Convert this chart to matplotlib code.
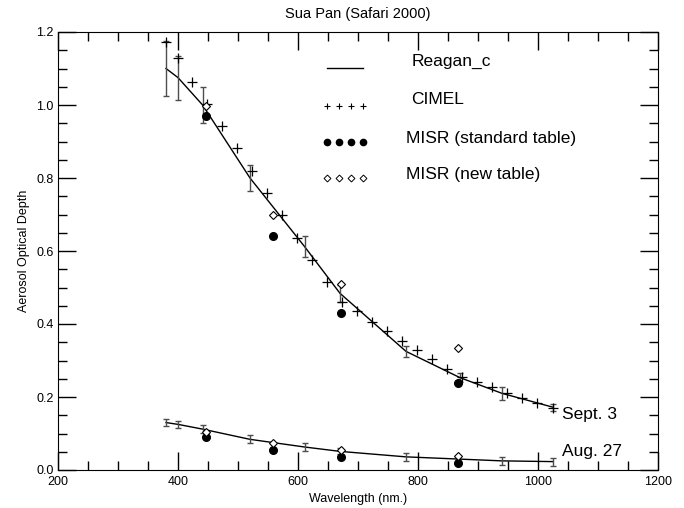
import matplotlib.pyplot as plt
import numpy as np

plt.rcParams['font.family'] = ['Liberation Sans', 'DejaVu Sans']

# Reagan_c sun photometer, with error bars
reagan_wl_sep = [380, 400, 441, 520, 611, 670, 780, 870, 940, 1025]
reagan_sep = [1.10, 1.075, 1.00, 0.80, 0.612, 0.484, 0.325, 0.253, 0.21, 0.172]
reagan_sep_err = [0.076, 0.06, 0.049, 0.035, 0.029, 0.023, 0.015, 0.012, 0.018, 0.01]

reagan_wl_aug = [380, 400, 441, 520, 611, 670, 780, 940, 1025]
reagan_aug = [0.13, 0.125, 0.112, 0.084, 0.063, 0.051, 0.036, 0.025, 0.023]
reagan_aug_err = [0.01, 0.009, 0.011, 0.011, 0.011, 0.008, 0.011, 0.01, 0.011]

# CIMEL (Sept. 3)
cimel_wl = [380, 400, 424, 449, 474, 499, 524, 549, 574, 599, 624, 649, 674,
            699, 724, 749, 774, 799, 824, 849, 874, 899, 924, 949, 974, 999, 1025]
cimel_sep = [1.173, 1.128, 1.064, 1.003, 0.942, 0.881, 0.820, 0.760, 0.699, 0.636,
             0.575, 0.516, 0.461, 0.436, 0.406, 0.381, 0.354, 0.329, 0.303, 0.277,
             0.256, 0.240, 0.227, 0.21, 0.196, 0.183, 0.169]

# MISR bands
misr_wl = [446, 558, 672, 867]
misr_std_sep = [0.971, 0.64, 0.43, 0.237]
misr_new_sep = [0.997, 0.699, 0.509, 0.333]
misr_std_aug = [0.091, 0.055, 0.035, 0.018]
misr_new_aug = [0.105, 0.073, 0.055, 0.039]

fig = plt.figure(figsize=(6.84, 5.08), dpi=100)
ax = fig.add_axes([58/684, 38/508, 600/684, 438/508])

for wl, val, err in [(reagan_wl_sep, reagan_sep, reagan_sep_err),
                     (reagan_wl_aug, reagan_aug, reagan_aug_err)]:
    ax.plot(wl, val, '-', color='k', lw=1)
    ax.errorbar(wl, val, yerr=err, fmt='none', ecolor='0.3', elinewidth=1,
                capsize=2.5, capthick=1)

ax.plot(cimel_wl, cimel_sep, '+', color='k', ms=7, mew=0.9)
ax.plot(misr_wl, misr_std_sep, 'o', color='k', ms=5.5)
ax.plot(misr_wl, misr_std_aug, 'o', color='k', ms=5.5)
ax.plot(misr_wl, misr_new_sep, 'D', mfc='white', mec='k', ms=4.5, mew=0.8)
ax.plot(misr_wl, misr_new_aug, 'D', mfc='white', mec='k', ms=4.5, mew=0.8)

ax.text(1040, 0.139, 'Sept. 3', fontsize=12.5, va='baseline')
ax.text(1040, 0.038, 'Aug. 27', fontsize=12.5, va='baseline')

# hand drawn legend
tr = ax.transAxes
lx = np.linspace(0.448, 0.508, 4)
ax.plot([0.448, 0.508], [0.918, 0.918], '-', color='k', lw=1, transform=tr)
ax.plot(lx, [0.832]*4, '+', color='k', ms=4.5, mew=0.8, transform=tr)
ax.plot(lx, [0.750]*4, 'o', color='k', ms=4.5, transform=tr)
ax.plot(lx, [0.667]*4, 'D', mfc='white', mec='k', ms=3.5, mew=0.7, transform=tr)
ax.text(0.589, 0.932, 'Reagan_c', fontsize=12.5, va='center', transform=tr)
ax.text(0.588, 0.845, 'CIMEL', fontsize=12.5, va='center', transform=tr)
ax.text(0.580, 0.756, 'MISR (standard table)', fontsize=12.5, va='center', transform=tr)
ax.text(0.580, 0.674, 'MISR (new table)', fontsize=12.5, va='center', transform=tr)

ax.set_xlim(200, 1200)
ax.set_ylim(0, 1.2)
ax.set_xticks(np.arange(200, 1201, 200))
ax.set_xticks(np.arange(200, 1201, 50), minor=True)
ax.set_yticks(np.arange(0, 1.21, 0.2))
ax.set_yticks(np.arange(0, 1.21, 0.05), minor=True)
ax.set_yticklabels(['%.1f' % v for v in np.arange(0, 1.21, 0.2)])
ax.tick_params(which='both', direction='in', top=True, right=True, labelsize=9, width=1)
ax.tick_params(which='major', length=13)
ax.tick_params(which='minor', length=6.5)
ax.tick_params(axis='x', pad=4)
ax.tick_params(axis='y', pad=3)

ax.set_xlabel('Wavelength (nm.)', fontsize=9)
ax.set_ylabel('Aerosol Optical Depth', fontsize=9, labelpad=5)
ax.set_title('Sua Pan (Safari 2000)', fontsize=10.5, pad=10)

fig.savefig('out.png', dpi=100)
